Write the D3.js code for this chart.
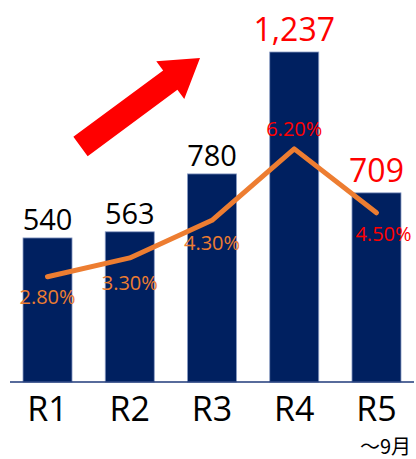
<!DOCTYPE html>
<html>
<head>
<meta charset="utf-8">
<script src="https://cdn.jsdelivr.net/npm/d3@7"></script>
<style>
  body { margin: 0; background: #fff; }
  svg { display: block; font-family: "Open Sans", "Noto Sans", sans-serif; }
</style>
</head>
<body>
<div id="chart"></div>
<script>
// data
const years = ["R1", "R2", "R3", "R4", "R5"];
const counts = [540, 563, 780, 1237, 709];
const rates = [2.8, 3.3, 4.3, 6.2, 4.5];
const countLabels = ["540", "563", "780", "1,237", "709"];
const rateLabels = ["2.80%", "3.30%", "4.30%", "6.20%", "4.50%"];
const highlight = [false, false, false, true, true]; // red labels

const width = 416, height = 459,
      margin = ({top: 52, right: 15, left: 23, bottom: 77});
const base = height - margin.bottom; // axis line

let svg = d3.select("#chart")
            .append("svg")
            .attr("width", width)
            .attr("height", height);

const x = d3.scaleBand()
            .domain(years)
            .range([margin.left, width - margin.right])
            .paddingInner(0.404)
            .paddingOuter(0);

const y = d3.scaleLinear()
            .domain([0, d3.max(counts)])
            .range([base, margin.top]);

// percent axis (hidden), zero sits on the same baseline
const y2 = d3.scaleLinear()
             .domain([0, 10])
             .range([base, base - 376]);

const navy = "#002060", orange = "#ED7D31", red = "#FF0000";

// bars
svg.selectAll(".bar")
   .data(years)
   .join("rect")
   .attr("class", "bar")
   .attr("x", d => x(d))
   .attr("width", x.bandwidth())
   .attr("y", (d, i) => y(counts[i]))
   .attr("height", (d, i) => base - y(counts[i]))
   .attr("fill", navy)
   .attr("stroke", "#8a9cc4")
   .attr("stroke-width", 0.8);

// axis line
svg.append("line")
   .attr("x1", 10).attr("x2", 414)
   .attr("y1", base).attr("y2", base)
   .attr("stroke", "#1f3a7a")
   .attr("stroke-width", 1.5);

// category labels
svg.append("g")
   .selectAll("text")
   .data(years)
   .join("text")
   .attr("x", d => x(d) + x.bandwidth() / 2)
   .attr("y", base + 39)
   .attr("text-anchor", "middle")
   .attr("font-size", 34)
   .attr("fill", "#000")
   .text(d => d);

svg.append("text")
   .attr("x", 411)
   .attr("y", 454)
   .attr("text-anchor", "end")
   .attr("font-family", "'Noto Sans CJK JP', sans-serif")
   .attr("font-size", 20)
   .attr("fill", "#000")
   .text("～9月");

// value labels on top of bars
svg.append("g")
   .selectAll("text")
   .data(years)
   .join("text")
   .attr("x", d => x(d) + x.bandwidth() / 2)
   .attr("y", (d, i) => y(counts[i]) - (highlight[i] ? 11 : 8))
   .attr("text-anchor", "middle")
   .attr("font-size", (d, i) => highlight[i] ? 32 : 29)
   .attr("fill", (d, i) => highlight[i] ? red : "#000")
   .text((d, i) => countLabels[i]);

// rate line
const line = d3.line()
               .x((d, i) => x(years[i]) + x.bandwidth() / 2)
               .y(d => y2(d));

svg.append("path")
   .datum(rates)
   .attr("d", line)
   .attr("fill", "none")
   .attr("stroke", orange)
   .attr("stroke-width", 5)
   .attr("stroke-linecap", "round")
   .attr("stroke-linejoin", "round");

// rate labels: below the point, except the peak which sits above
const rateOffset = [27, 32, 30, -13, 28];
svg.append("g")
   .selectAll("text")
   .data(rates)
   .join("text")
   .attr("x", (d, i) => x(years[i]) + x.bandwidth() / 2 + (i == 4 ? 7 : 0))
   .attr("y", (d, i) => y2(d) + rateOffset[i])
   .attr("text-anchor", "middle")
   .attr("font-size", 20)
   .attr("fill", (d, i) => highlight[i] ? red : orange)
   .text((d, i) => rateLabels[i]);

// big red arrow (decoration)
const tail = [80.5, 146.5], tip = [200, 58];
const shaftW = 24, headW = 47, headL = 37;
const dx = tip[0] - tail[0], dy = tip[1] - tail[1];
const len = Math.hypot(dx, dy);
const ux = dx / len, uy = dy / len, nx = -uy, ny = ux;
const hb = [tip[0] - ux * headL, tip[1] - uy * headL];
const pts = [
  [tail[0] + nx * shaftW / 2, tail[1] + ny * shaftW / 2],
  [hb[0] + nx * shaftW / 2, hb[1] + ny * shaftW / 2],
  [hb[0] + nx * headW / 2, hb[1] + ny * headW / 2],
  tip,
  [hb[0] - nx * headW / 2, hb[1] - ny * headW / 2],
  [hb[0] - nx * shaftW / 2, hb[1] - ny * shaftW / 2],
  [tail[0] - nx * shaftW / 2, tail[1] - ny * shaftW / 2]
];
svg.append("path")
   .attr("d", d3.line()(pts) + "Z")
   .attr("fill", red);
</script>
</body>
</html>
